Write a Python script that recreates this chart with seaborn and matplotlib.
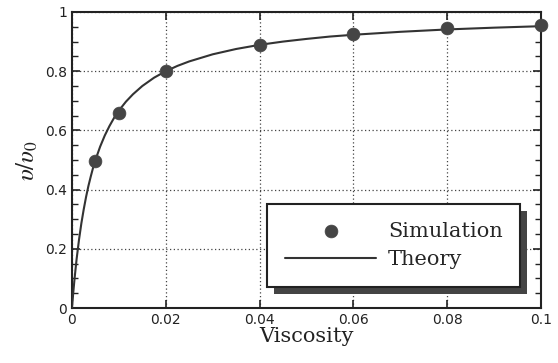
import matplotlib
matplotlib.use("Agg")
import matplotlib.pyplot as plt
import matplotlib.patheffects as pe
from matplotlib.ticker import FuncFormatter, MultipleLocator
import numpy as np
import pandas as pd
import seaborn as sns

# simulation points
sim_visc = [0.005, 0.01, 0.02, 0.04, 0.06, 0.08, 0.1]
sim_ratio = [0.495, 0.66, 0.80, 0.89, 0.925, 0.945, 0.955]

# theory curve
theory_visc = [0.0, 0.00025, 0.0005, 0.00075, 0.001, 0.0015, 0.002, 0.0025,
               0.003, 0.0035, 0.004, 0.0045, 0.005, 0.006, 0.007, 0.008,
               0.009, 0.01, 0.0115, 0.013, 0.015, 0.0175, 0.02, 0.0225,
               0.025, 0.03, 0.035, 0.04, 0.045, 0.05, 0.055, 0.06, 0.07,
               0.08, 0.09, 0.1]
theory_ratio = [0.0, 0.048, 0.091, 0.13, 0.167, 0.231, 0.286, 0.333,
                0.375, 0.412, 0.444, 0.474, 0.5, 0.545, 0.583, 0.615,
                0.643, 0.667, 0.697, 0.722, 0.75, 0.778, 0.80, 0.818,
                0.833, 0.857, 0.875, 0.889, 0.9, 0.909, 0.917, 0.923, 0.933,
                0.941, 0.947, 0.952]

sim = pd.DataFrame({"visc": sim_visc, "ratio": sim_ratio})
theory = pd.DataFrame({"visc": theory_visc, "ratio": theory_ratio})

sns.set_style("ticks")
plt.rcParams["font.family"] = ["DejaVu Sans"]
plt.rcParams["mathtext.fontset"] = "stix"

fig = plt.figure(figsize=(5.58, 3.63), dpi=100)
ax = fig.add_axes([0.129, 0.1515, 0.8405, 0.8155])

sns.lineplot(data=theory, x="visc", y="ratio", color="#333333", lw=1.5,
             label="Theory", ax=ax, zorder=3)
sns.scatterplot(data=sim, x="visc", y="ratio", color="#454545", s=85,
                edgecolor="#454545", linewidth=0.5, label="Simulation",
                ax=ax, zorder=4, clip_on=False)

ax.set_xlim(0, 0.1)
ax.set_ylim(0, 1)
ax.xaxis.set_major_locator(MultipleLocator(0.02))
ax.yaxis.set_major_locator(MultipleLocator(0.2))
ax.yaxis.set_minor_locator(MultipleLocator(0.05))
fmt = FuncFormatter(lambda v, p: "%g" % round(v, 6))
ax.xaxis.set_major_formatter(fmt)
ax.yaxis.set_major_formatter(fmt)

ax.grid(True, which="major", linestyle=(0, (1, 2)), color="#444444", lw=0.9)
ax.tick_params(which="both", direction="in", top=True, right=True,
               colors="#222222", labelsize=10, labelcolor="#222222")
ax.tick_params(which="major", length=6, width=1.2)
ax.tick_params(which="minor", length=4, width=1)
for s in ax.spines.values():
    s.set_linewidth(1.5)
    s.set_color("#222222")

ax.set_xlabel("Viscosity", fontfamily="DejaVu Serif", fontsize=15,
              color="#222222", labelpad=0)
ax.set_ylabel(r"$\upsilon/\upsilon_0$", fontsize=18, color="#222222",
              labelpad=4)

handles, labels = ax.get_legend_handles_labels()
order = [labels.index("Simulation"), labels.index("Theory")]
leg = ax.legend([handles[i] for i in order], [labels[i] for i in order],
                loc="lower left", bbox_to_anchor=(0.416, 0.071),
                borderaxespad=0, fancybox=False, framealpha=1,
                edgecolor="#222222", handlelength=4.4, handletextpad=0.55,
                borderpad=0.85, labelspacing=0.45,
                prop={"family": "DejaVu Serif", "size": 15})
frame = leg.get_frame()
frame.set_linewidth(1.5)
frame.set_path_effects([pe.SimplePatchShadow(offset=(5, -5),
                                             shadow_rgbFace="#444444",
                                             alpha=1),
                        pe.Normal()])

fig.savefig("out.png", dpi=100)
